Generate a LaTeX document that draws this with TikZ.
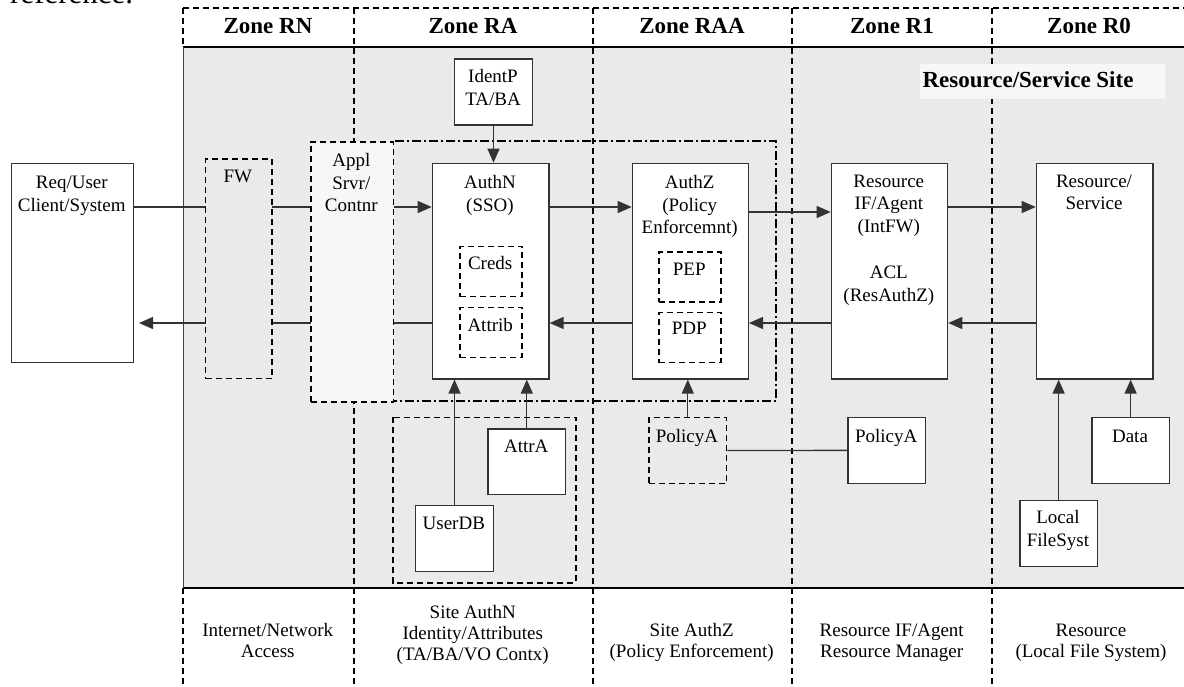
\documentclass[tikz,border=0pt]{standalone}
\usepackage{fontspec}
\setmainfont{Liberation Serif}
\usetikzlibrary{arrows.meta,calc}
\pgfdeclarelayer{bg}
\pgfdeclarelayer{connlayer}
\pgfsetlayers{bg,connlayer,main}
\definecolor{zonegray}{HTML}{EAEAEA}
\definecolor{appgray}{HTML}{F7F7F7}
\definecolor{boxline}{HTML}{333333}
\begin{document}
\begin{tikzpicture}[x=1pt,y=-1pt,
 sbox/.style={draw=boxline, line width=1.3pt, fill=white, anchor=north west, inner sep=0pt},
 dbox/.style={draw=black, line width=1.6pt, dash pattern=on 6pt off 4pt, anchor=north west, inner sep=0pt},
 txt/.style={anchor=base, align=center, inner sep=0pt, font=\fontsize{19}{22.5}\selectfont},
 btxt/.style={anchor=base, align=center, inner sep=0pt, font=\fontsize{19}{21.3}\selectfont},
 ztxt/.style={anchor=base, inner sep=0pt, font=\fontsize{23}{27}\selectfont\bfseries},
 zdiv/.style={line width=1.6pt, dash pattern=on 6pt off 4pt},
 ddot/.style={line width=1.6pt, dash pattern=on 9pt off 3pt on 2pt off 3pt},
 link/.style={draw=boxline, line width=1.3pt},
 arr/.style={link, -{Triangle[length=14pt,width=12pt]}},
]
\useasboundingbox (0,0) rectangle (1184,686);
\clip (0,0) rectangle (1184,686);

% cut-off text at the very top
\node[anchor=base west, inner sep=0pt, font=\fontsize{31}{36}\selectfont] (reftxt) at (10,3.6) {reference.};

% zone labels
\node[ztxt] (zrn) at (268,33.3) {Zone RN};
\node[ztxt] (zra) at (473,33.3) {Zone RA};
\node[ztxt] (zraa) at (692,33.3) {Zone RAA};
\node[ztxt] (zr1) at (892,33.3) {Zone R1};
\node[ztxt] (zr0) at (1089,33.3) {Zone R0};

% site label
\node[fill=appgray, anchor=north west, inner sep=0pt, minimum width=245pt, minimum height=35pt] (sitebg) at (920,64) {};
\node[ztxt] (site) at (1028,87.3) {Resource/Service Site};

% boxes
\node[sbox, minimum width=121.7pt, minimum height=199pt] (req) at (11,162.7) {};
\node[dbox, fill=zonegray, minimum width=66.3pt, minimum height=219.7pt] (fw) at (204.7,158) {};
\node[dbox, fill=appgray, minimum width=82.7pt, minimum height=260pt] (appl) at (310,141) {};
\node[sbox, minimum width=77.7pt, minimum height=66pt] (identp) at (454,58.3) {};
\node[sbox, minimum width=116.6pt, minimum height=215.6pt] (authn) at (431.7,162.7) {};
\node[dbox, fill=white, minimum width=61.7pt, minimum height=50pt] (creds) at (459.3,245.7) {};
\node[dbox, fill=white, minimum width=61.7pt, minimum height=50pt] (attrib) at (459.3,306.7) {};
\node[sbox, minimum width=116pt, minimum height=215.6pt] (authz) at (631.7,162.7) {};
\node[dbox, fill=white, minimum width=61.7pt, minimum height=50pt] (pep) at (658.3,251) {};
\node[dbox, fill=white, minimum width=61.7pt, minimum height=50pt] (pdp) at (658.3,311.7) {};
\node[sbox, minimum width=116.3pt, minimum height=215.6pt] (resif) at (830.7,162.7) {};
\node[sbox, minimum width=116.6pt, minimum height=215.6pt] (ressvc) at (1035.7,162.7) {};
\node[sbox, minimum width=77.7pt, minimum height=65.7pt] (attra) at (487.3,428.3) {};
\node[sbox, minimum width=77.7pt, minimum height=66pt] (userdb) at (415,505) {};
\node[dbox, fill=zonegray, minimum width=77.4pt, minimum height=66pt] (pold) at (648.3,416.7) {};
\node[sbox, minimum width=77.7pt, minimum height=66pt] (pols) at (847.3,416.7) {};
\node[sbox, minimum width=77.4pt, minimum height=66pt] (data) at (1091.3,416.7) {};
\node[sbox, minimum width=77.4pt, minimum height=66pt] (local) at (1019.3,500) {};

% box texts (anchor base = baseline of the last line)
\node[txt] (req-t) at (71.8,211) {Req/User\\Client/System};
\node[txt] (fw-t) at (237.8,182.7) {FW};
\node[txt] (appl-t) at (351.3,211.5) {Appl\\Srvr/\\Contnr};
\node[txt] (identp-t) at (493,105) {IdentP\\TA/BA};
\node[txt] (authn-t) at (490,211) {AuthN\\(SSO)};
\node[txt] (creds-t) at (490.2,269.5) {Creds};
\node[txt] (attrib-t) at (490.2,331.2) {Attrib};
\node[txt] (authz-t) at (689.7,233.5) {AuthZ\\(Policy\\Enforcemnt)};
\node[txt] (pep-t) at (689.2,275.5) {PEP};
\node[txt] (pdp-t) at (689.2,334.5) {PDP};
\node[txt] (resif-t) at (888.8,301.2) {Resource\\IF/Agent\\(IntFW)\\[24pt]ACL\\(ResAuthZ)};
\node[txt] (ressvc-t) at (1094,209.7) {Resource/\\Service};
\node[txt] (attra-t) at (526.2,452.8) {AttrA};
\node[txt] (userdb-t) at (453.8,529.8) {UserDB};
\node[txt] (pold-t) at (687,442.2) {PolicyA};
\node[txt] (pols-t) at (886.2,442.2) {PolicyA};
\node[txt] (data-t) at (1130,442.2) {Data};
\node[txt] (local-t) at (1058,546.3) {Local\\FileSyst};

% bottom zone descriptions
\node[btxt] (d-rn) at (267.7,657.3) {Internet/Network\\Access};
\node[btxt] (d-ra) at (472.7,660.8) {Site AuthN\\Identity/Attributes\\(TA/BA/VO Contx)};
\node[btxt] (d-raa) at (691.7,657.3) {Site AuthZ\\(Policy Enforcement)};
\node[btxt] (d-r1) at (891.7,657.5) {Resource IF/Agent\\Resource Manager};
\node[btxt] (d-r0) at (1091,657.5) {Resource\\(Local File System)};

\coordinate (ytop) at (0,207);
\coordinate (yz) at (0,212);
\coordinate (ybot) at (0,323);

\begin{pgfonlayer}{bg}
\fill[zonegray] (183,46.7) rectangle (1184,587.7);
\draw[zdiv] (183,8) -- (183,46.7);
\draw[zdiv] (183,587.7) -- (183,686);
\foreach \x in {354,592.7,792,992} \draw[zdiv] (\x,8) -- (\x,686);
\draw[zdiv] (183,8) -- (1184,8);
\draw[line width=1.8pt] (183,46.7) -- (1184,46.7);
\draw[line width=1.8pt] (183,587.7) -- (1184,587.7);
\draw[line width=1pt, draw=black!75] (183,46.7) -- (183,587.7);
\draw[ddot] (392.7,140.7) rectangle (776,400.7);
\draw[zdiv] (392.7,417.3) rectangle (576,582.7);
\end{pgfonlayer}

\begin{pgfonlayer}{connlayer}
\draw[arr] (req.east |- ytop) -- (authn.west |- ytop);
\draw[arr] (authn.east |- ytop) -- (authz.west |- ytop);
\draw[arr] (authz.east |- yz) -- (resif.west |- yz);
\draw[arr] (resif.east |- ytop) -- (ressvc.west |- ytop);
\draw[arr] (ressvc.west |- ybot) -- (resif.east |- ybot);
\draw[arr] (resif.west |- ybot) -- (authz.east |- ybot);
\draw[arr] (authz.west |- ybot) -- (authn.east |- ybot);
\draw[arr, shorten >=5pt] (authn.west |- ybot) -- (req.east |- ybot);
\draw[arr] (identp.south) -- (authn.north -| identp.south);
\draw[arr] (userdb.north) -- (userdb.north |- authn.south);
\draw[arr] (attra.north) -- (attra.north |- authn.south);
\draw[arr] (pold.north) -- (pold.north |- authz.south);
\draw[link] (pold.east) -- (pols.west);
\draw[arr] (local.north) -- (local.north |- ressvc.south);
\draw[arr] (data.north) -- (data.north |- ressvc.south);
\end{pgfonlayer}
\end{tikzpicture}
\end{document}
